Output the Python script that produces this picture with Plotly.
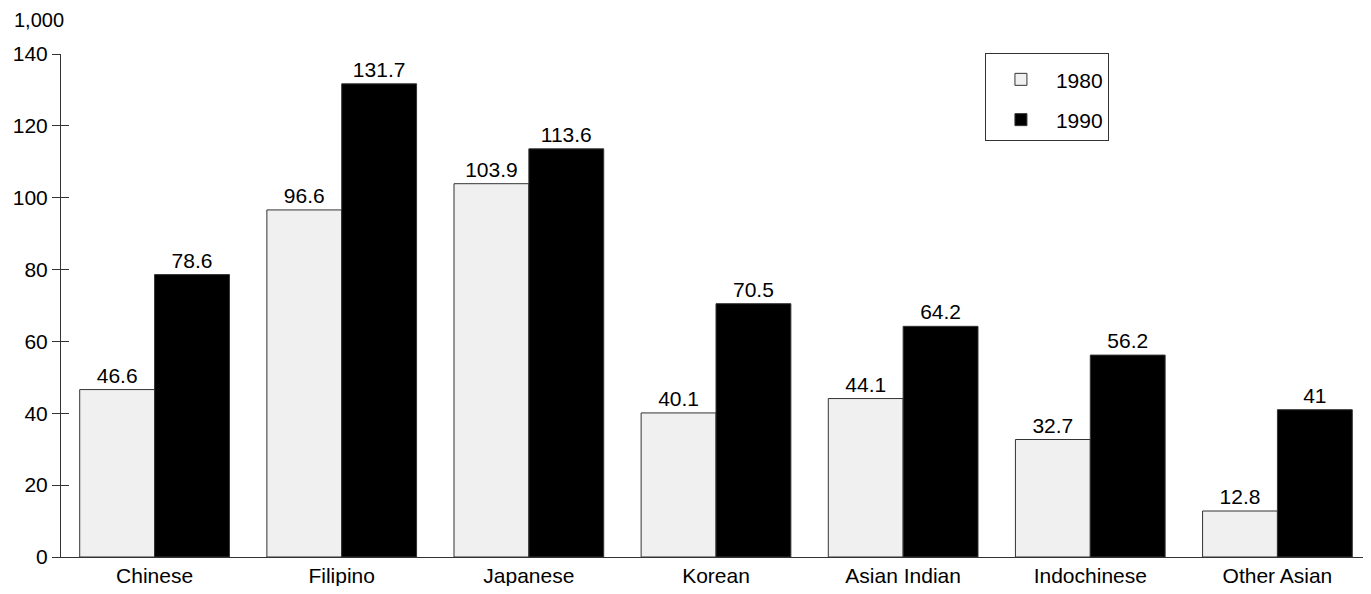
import plotly.graph_objects as go

categories = ["Chinese", "Filipino", "Japanese", "Korean", "Asian Indian", "Indochinese", "Other Asian"]
values_1980 = [46.6, 96.6, 103.9, 40.1, 44.1, 32.7, 12.8]
values_1990 = [78.6, 131.7, 113.6, 70.5, 64.2, 56.2, 41]
labels_1980 = ["46.6", "96.6", "103.9", "40.1", "44.1", "32.7", "12.8"]
labels_1990 = ["78.6", "131.7", "113.6", "70.5", "64.2", "56.2", "41"]
y_ticks = [0, 20, 40, 60, 80, 100, 120, 140]

FONT = "Liberation Sans, Arial, sans-serif"
FS = 21

fig = go.Figure()
fig.add_trace(go.Bar(
    name="1980", x=categories, y=values_1980, text=labels_1980, legendgroup="a",
    textposition="outside", textangle=0, cliponaxis=False,
    marker=dict(color="#f0f0f0", line=dict(color="#333333", width=1)),
    textfont=dict(size=FS, color="black", family=FONT),
))
fig.add_trace(go.Bar(
    name="1990", x=categories, y=values_1990, text=labels_1990, legendgroup="b",
    textposition="outside", textangle=0, cliponaxis=False,
    marker=dict(color="#000000", line=dict(color="#333333", width=1)),
    textfont=dict(size=FS, color="black", family=FONT),
))
# invisible trace for inside ticks on overlay axis
fig.add_trace(go.Scatter(x=[categories[0]], y=[0], yaxis="y2", mode="markers",
                         marker=dict(opacity=0), showlegend=False, hoverinfo="skip"))

fig.update_layout(
    width=1363, height=578,
    margin=dict(l=53, r=0, t=46, b=29, autoexpand=False),
    paper_bgcolor="white", plot_bgcolor="white",
    barmode="group", bargap=0.2, bargroupgap=0,
    font=dict(family=FONT, size=FS, color="black"),
    showlegend=True,
    legend=dict(x=0.7053, y=1.002, xanchor="left", yanchor="top",
                bordercolor="#333333", borderwidth=1, bgcolor="white",
                font=dict(size=FS), itemwidth=60,
                title=dict(text=" ", font=dict(size=4)),
                tracegroupgap=10),
    xaxis=dict(range=[-0.5, 6.5], showline=True, linecolor="#333333", linewidth=1,
               ticks="", showgrid=False, zeroline=False, automargin=False,
               tickfont=dict(size=FS)),
    yaxis=dict(range=[0, 140], tickvals=y_ticks, ticks="outside", ticklen=8,
               tickcolor="#333333", showline=True, linecolor="#333333", linewidth=1,
               showgrid=False, zeroline=False, tickformat=",d", automargin=False,
               tickfont=dict(size=FS)),
    yaxis2=dict(range=[0, 140], overlaying="y", side="left", tickvals=y_ticks,
                ticks="inside", ticklen=8, tickcolor="#333333", showticklabels=False,
                showgrid=False, zeroline=False, showline=False, automargin=False),
    annotations=[dict(text="1,000", x=-0.0374, y=1.0 + 34/503, xref="paper", yref="paper",
                      xanchor="left", yanchor="middle",
                      showarrow=False, font=dict(size=20))],
)

fig.write_html("out.html")
